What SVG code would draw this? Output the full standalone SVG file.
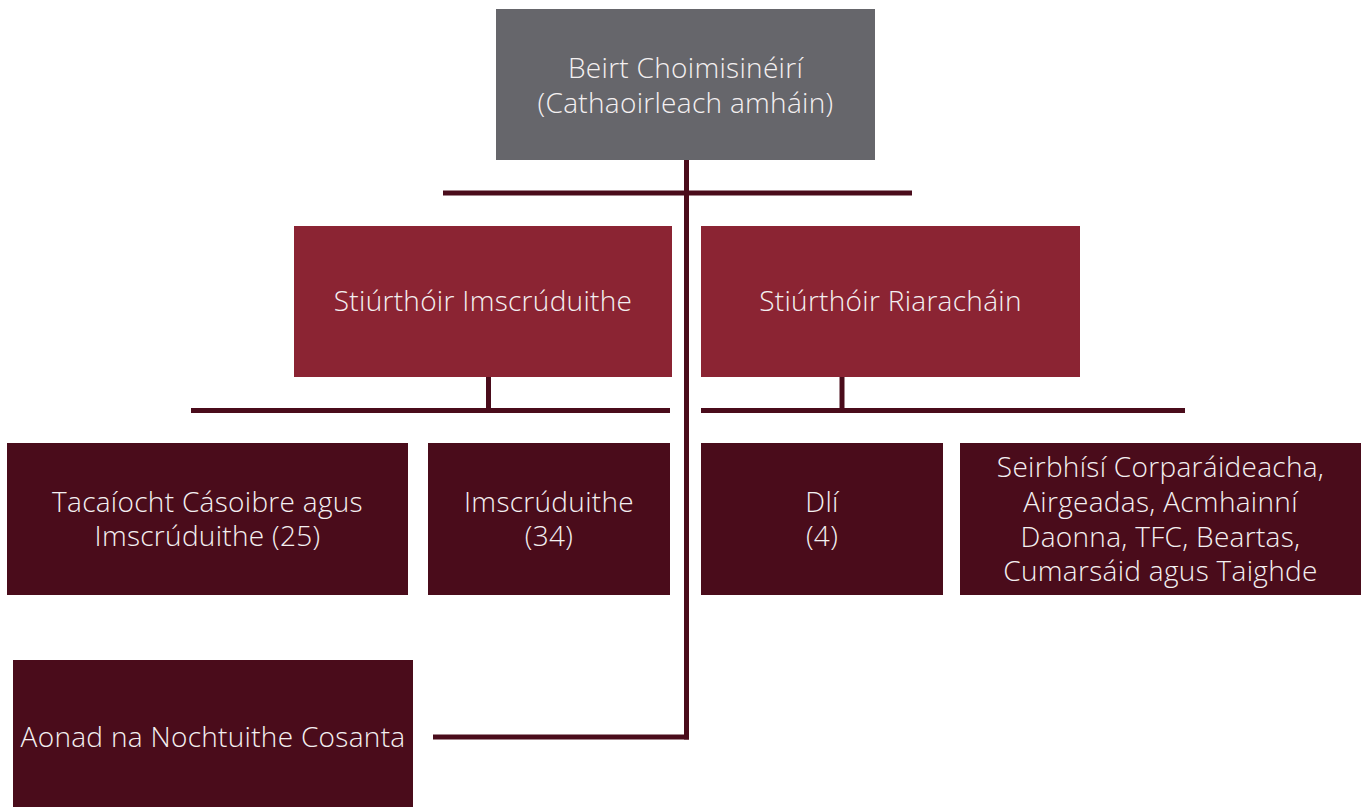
<svg xmlns="http://www.w3.org/2000/svg" width="1367" height="807" viewBox="0 0 1367 807">
<style>
.t{font-family:"Open Sans","Liberation Sans",Arial,sans-serif;font-weight:300;font-size:28px;letter-spacing:0.3px;fill:#f4f0f1;text-anchor:middle}
.gray{fill:#66666b}
.red{fill:#8b2433}
.dark{fill:#4a0c1b}
.c{stroke:#4a0c1b;stroke-width:5;fill:none}
</style>
<rect width="1367" height="807" fill="#ffffff"/>
<g id="connectors">
<line class="c" x1="686.5" y1="160" x2="686.5" y2="739.5"/>
<line class="c" x1="443" y1="193" x2="912" y2="193"/>
<line class="c" x1="488.5" y1="377" x2="488.5" y2="410.5"/>
<line class="c" x1="191" y1="410.5" x2="670" y2="410.5"/>
<line class="c" x1="842" y1="377" x2="842" y2="410.5"/>
<line class="c" x1="701" y1="410.5" x2="1185" y2="410.5"/>
<line class="c" x1="433" y1="737" x2="689" y2="737"/>
</g>
<g id="commissioners">
<rect class="gray" x="496" y="9" width="379" height="151"/>
<text class="t" x="685.5" y="78">Beirt Choimisinéirí</text>
<text class="t" x="685.5" y="113">(Cathaoirleach amháin)</text>
</g>
<g id="dir-investigations">
<rect class="red" x="294" y="226" width="378" height="151"/>
<text class="t" x="483" y="311">Stiúrthóir Imscrúduithe</text>
</g>
<g id="dir-regulation">
<rect class="red" x="701" y="226" width="379" height="151"/>
<text class="t" x="890.5" y="311">Stiúrthóir Riaracháin</text>
</g>
<g id="casework">
<rect class="dark" x="7" y="443" width="401" height="152"/>
<text class="t" x="207.5" y="512">Tacaíocht Cásoibre agus</text>
<text class="t" x="207.5" y="546">Imscrúduithe (25)</text>
</g>
<g id="investigations">
<rect class="dark" x="428" y="443" width="242" height="152"/>
<text class="t" x="549" y="512">Imscrúduithe</text>
<text class="t" x="549" y="546">(34)</text>
</g>
<g id="legal">
<rect class="dark" x="701" y="443" width="242" height="152"/>
<text class="t" x="822" y="512">Dlí</text>
<text class="t" x="822" y="546">(4)</text>
</g>
<g id="corporate">
<rect class="dark" x="960" y="443" width="401" height="152"/>
<text class="t" x="1160.5" y="477">Seirbhísí Corparáideacha,</text>
<text class="t" x="1160.5" y="512">Airgeadas, Acmhainní</text>
<text class="t" x="1160.5" y="547">Daonna, TFC, Beartas,</text>
<text class="t" x="1160.5" y="581">Cumarsáid agus Taighde</text>
</g>
<g id="protected-disclosures">
<rect class="dark" x="13" y="660" width="400" height="147"/>
<text class="t" x="213" y="747">Aonad na Nochtuithe Cosanta</text>
</g>
</svg>
